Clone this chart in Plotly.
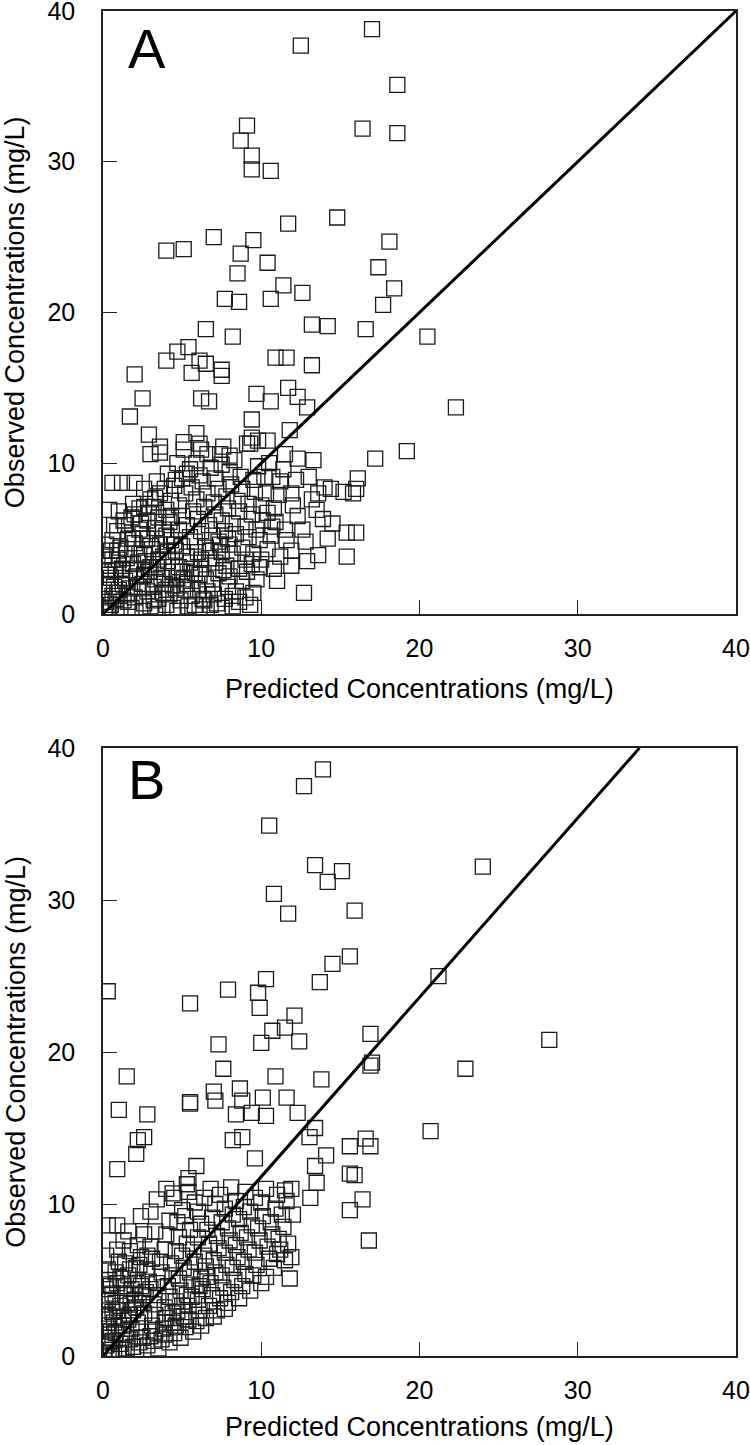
import plotly.graph_objects as go

# (predicted, observed) pairs, mg/L

# panel A - scattered points above ~12 mg/L and to the right
a_outer = [
    (17.0, 38.8), (12.5, 37.7), (18.6, 35.1), (9.1, 32.4), (16.4, 32.2), (18.6, 31.9),
    (8.7, 31.4), (9.4, 30.4), (9.4, 29.5), (10.6, 29.4), (4.0, 24.1), (5.1, 24.2),
    (7.0, 25.0), (11.7, 25.9), (14.8, 26.3), (9.5, 24.8), (8.7, 23.9), (10.4, 23.3),
    (17.4, 23.0), (18.1, 24.7), (8.5, 22.6), (11.4, 21.8), (12.6, 21.3), (7.7, 20.9),
    (8.6, 20.7), (10.6, 20.9), (18.4, 21.6), (17.7, 20.5), (13.2, 19.2), (14.2, 19.1),
    (16.6, 18.9), (20.5, 18.4), (6.5, 18.9), (8.2, 18.4), (4.7, 17.4), (5.4, 17.7),
    (4.0, 16.8), (6.1, 16.8), (6.5, 16.6), (5.6, 16.0), (7.5, 16.2), (7.5, 15.8),
    (2.0, 15.9), (2.5, 14.3), (6.2, 14.3), (6.7, 14.1), (1.7, 13.1), (9.7, 14.6),
    (10.6, 14.1), (11.7, 15.0), (12.3, 14.4), (12.9, 13.7), (9.4, 12.9), (10.9, 17.0),
    (11.6, 17.0), (13.2, 16.5), (11.8, 12.2), (22.3, 13.7), (2.9, 11.9), (5.9, 12.0),
    (3.6, 11.1), (5.1, 10.9), (6.2, 10.9), (7.4, 10.6), (8.0, 10.5), (9.3, 11.3),
    (9.8, 11.5), (10.4, 11.5), (11.5, 10.6), (17.2, 10.3), (19.2, 10.8),
]

# panel A - dense cluster below ~12 mg/L
a_core = [
    (13.3, 10.2), (12.3, 10.3), (10.7, 9.1), (11.9, 8.0), (13.2, 7.6), (14.4, 8.3),
    (15.2, 8.1), (15.8, 8.0), (13.9, 6.3), (14.5, 6.0), (15.4, 5.4), (16.0, 5.4),
    (12.8, 4.8), (13.6, 3.9), (15.4, 3.8), (11.9, 3.2), (12.7, 1.4), (11.9, 4.2),
    (11.1, 7.9), (10.4, 6.7), (10.7, 5.8), (12.0, 7.2), (11.6, 4.9), (11.2, 3.8),
    (9.9, 3.1), (16.1, 9.0), (16.0, 8.3), (14.0, 8.4), (13.6, 8.0),
    (0.1, 0.3), (0.2, 0.8), (0.1, 1.4), (0.3, 2.0), (0.2, 2.6), (0.4, 3.2), (0.1, 3.8),
    (0.3, 0.1), (0.5, 0.6), (0.6, 1.2), (0.7, 1.8), (0.5, 2.4), (0.8, 2.9), (0.6, 3.6),
    (0.9, 4.2), (0.2, 4.6), (0.6, 4.9), (0.9, 5.5), (0.4, 6.9), (1.0, 6.8), (0.6, 8.7),
    (1.2, 8.7), (2.0, 8.7), (1.1, 0.2), (1.3, 0.9), (1.0, 1.6), (1.4, 2.2), (1.2, 3.0),
    (1.5, 3.7), (1.1, 4.4), (1.6, 5.0), (1.4, 5.9), (1.8, 6.4), (1.9, 7.3), (2.3, 7.0),
    (1.8, 0.4), (2.0, 1.1), (1.7, 1.7), (2.1, 2.5), (1.9, 3.3), (2.3, 4.0), (2.0, 4.7),
    (2.5, 5.3), (2.4, 6.0), (2.9, 6.7), (3.0, 7.6), (2.6, 8.3), (2.6, 0.7), (2.8, 1.5),
    (2.5, 2.0), (2.9, 2.8), (2.7, 3.5), (3.1, 4.3), (2.8, 5.0), (3.3, 5.7), (3.5, 6.4),
    (3.2, 7.1), (3.6, 8.0), (3.4, 8.8), (3.0, 10.6), (3.6, 10.7), (3.3, 0.3), (3.5, 1.0),
    (3.2, 1.8), (3.7, 2.4), (3.4, 3.1), (3.8, 3.8), (3.6, 4.6), (4.0, 5.2), (4.2, 6.1),
    (4.0, 6.9), (4.3, 7.5), (4.5, 8.5), (4.1, 9.3), (4.7, 10.0), (5.1, 11.4), (4.0, 0.6),
    (4.2, 1.3), (3.9, 2.0), (4.4, 2.8), (4.1, 3.5), (4.6, 4.2), (4.3, 4.9), (4.8, 5.6),
    (5.0, 6.5), (4.8, 7.2), (5.2, 8.0), (5.0, 9.0), (5.5, 9.6), (4.7, 0.2), (4.9, 0.9),
    (4.6, 1.7), (5.1, 2.3), (4.8, 3.1), (5.3, 3.8), (5.0, 4.5), (5.5, 5.1), (5.3, 5.9),
    (5.7, 6.8), (5.9, 7.6), (5.6, 8.4), (6.1, 9.2), (6.1, 11.3), (5.4, 0.5), (5.6, 1.2),
    (5.3, 2.0), (5.8, 2.7), (5.5, 3.4), (6.0, 4.1), (5.8, 4.8), (6.2, 5.5), (6.0, 6.3),
    (6.4, 7.1), (6.6, 8.0), (6.3, 8.8), (6.8, 9.7), (6.1, 0.3), (6.3, 1.0), (6.0, 1.6),
    (6.5, 2.3), (6.2, 3.0), (6.7, 3.7), (6.5, 4.4), (6.9, 5.2), (6.7, 5.9), (7.1, 6.6),
    (7.0, 7.4), (7.3, 8.3), (7.1, 9.0), (7.5, 9.9), (7.6, 11.1), (6.8, 0.6), (7.0, 1.3),
    (6.9, 2.0), (7.3, 2.7), (7.1, 3.4), (7.5, 4.1), (7.3, 4.8), (7.7, 5.5), (7.5, 6.2),
    (7.9, 7.0), (7.8, 7.8), (8.1, 8.6), (8.0, 9.4), (8.3, 10.2), (7.5, 0.4), (7.7, 1.0),
    (7.9, 1.8), (8.0, 2.5), (7.8, 3.2), (8.2, 4.0), (8.0, 4.6), (8.4, 5.3), (8.2, 6.0),
    (8.6, 6.8), (8.5, 7.5), (8.8, 8.3), (8.7, 9.1), (9.1, 11.3), (9.4, 11.7), (8.6, 0.8),
    (8.4, 1.5), (8.8, 2.2), (8.6, 3.0), (9.0, 3.6), (8.8, 4.4), (9.2, 5.1), (9.0, 5.8),
    (9.4, 6.6), (9.2, 7.3), (9.6, 8.1), (9.5, 8.9), (9.8, 9.8), (9.3, 0.6), (9.5, 1.4),
    (9.7, 2.3), (9.5, 4.0), (9.9, 4.9), (9.7, 5.6), (10.1, 6.2), (10.0, 7.2), (10.3, 8.0),
    (10.2, 9.1), (10.5, 10.0), (10.4, 4.3), (10.6, 5.2), (10.9, 6.1), (10.8, 7.0),
    (11.2, 8.8), (11.4, 9.6), (10.0, 3.6), (10.8, 3.0), (11.0, 2.2), (11.5, 5.6),
    (12.3, 6.5), (12.6, 5.6), (12.2, 8.9), (13.0, 9.1), (13.5, 6.9), (12.9, 3.5), (14.2, 5.0),
    (0.4, 0.4), (0.8, 1.0), (1.5, 1.3), (2.2, 1.8), (2.6, 2.6), (3.0, 3.1), (3.5, 3.6),
    (4.1, 4.1), (4.5, 4.6), (1.2, 2.4), (1.7, 2.9), (2.2, 3.4), (2.6, 3.9), (3.0, 4.5),
    (3.4, 5.0), (3.8, 5.6), (4.3, 6.4), (1.0, 3.6), (1.5, 4.3), (1.9, 5.0), (2.3, 5.6),
    (2.8, 6.2), (3.2, 0.9), (3.8, 1.4), (4.4, 1.9), (5.0, 2.8), (5.6, 3.0), (6.2, 3.6),
    (6.8, 4.2), (7.4, 4.6), (7.9, 5.0), (2.5, 0.2), (3.0, 0.5), (4.4, 0.4), (5.8, 0.6),
    (6.4, 0.9), (7.2, 0.7), (8.2, 0.5), (9.0, 1.1), (8.2, 1.2), (6.6, 1.5), (5.2, 1.6),
    (4.0, 1.6), (3.3, 2.3), (4.7, 2.4), (6.1, 2.6), (7.6, 2.9), (9.1, 2.8), (9.4, 3.3),
    (1.6, 0.8), (0.9, 1.4), (0.3, 2.9), (0.5, 4.2), (0.7, 5.9), (1.3, 6.2), (2.0, 6.6),
    (2.6, 7.1), (3.3, 7.7), (3.9, 8.3), (4.6, 8.9), (5.3, 9.3), (5.9, 10.0), (6.6, 10.6),
]

# panel B - scattered points
b_outer = [
    (13.9, 38.6), (12.7, 37.5), (10.5, 34.9), (13.4, 32.3), (15.1, 31.9), (14.2, 31.2),
    (10.8, 30.4), (11.7, 29.1), (15.9, 29.3), (24.0, 32.2), (14.5, 25.8), (15.6, 26.3),
    (13.7, 24.6), (0.3, 24.0), (5.5, 23.2), (7.9, 24.1), (10.3, 24.8), (9.8, 23.9),
    (9.9, 22.9), (12.1, 22.4), (11.5, 21.6), (10.7, 21.4), (12.4, 20.7), (10.0, 20.6),
    (7.3, 20.5), (16.9, 21.2), (28.2, 20.8), (21.2, 25.0), (22.9, 18.9), (16.9, 19.1),
    (17.0, 19.3), (1.5, 18.4), (7.6, 18.9), (10.9, 18.4), (13.8, 18.2), (1.0, 16.2),
    (2.8, 15.9), (5.5, 16.6), (5.5, 16.7), (7.0, 17.4), (7.1, 16.8), (8.65, 17.6),
    (8.8, 16.8), (10.1, 17.0), (11.6, 17.0), (8.4, 15.9), (9.4, 16.0), (10.3, 15.8),
    (12.3, 16.0), (13.4, 15.0), (13.05, 14.4), (8.2, 14.2), (8.8, 14.4), (2.2, 14.2),
    (2.6, 14.4), (2.1, 13.3), (20.7, 14.8), (16.6, 14.3), (16.9, 13.8), (15.6, 13.8),
    (14.1, 13.2), (9.6, 13.0), (0.9, 12.3), (5.9, 12.5), (13.1, 10.4), (13.5, 11.4),
    (13.4, 12.5), (15.6, 12.0), (15.9, 11.9), (16.4, 10.3), (15.6, 9.6), (16.8, 7.6),
]

# panel B - dense cluster
b_core = [
    (0.1, 0.2), (0.2, 0.7), (0.1, 1.2), (0.3, 1.8), (0.2, 2.4), (0.1, 3.0), (0.3, 3.7),
    (0.2, 4.4), (0.4, 5.0), (0.3, 5.7), (0.2, 6.6), (0.3, 8.6), (0.5, 0.4), (0.6, 1.0),
    (0.5, 1.6), (0.7, 2.2), (0.6, 2.9), (0.8, 3.5), (0.6, 4.1), (0.9, 4.8), (0.8, 5.5),
    (1.0, 6.2), (0.9, 7.0), (0.9, 8.6), (1.0, 0.2), (1.1, 0.8), (1.2, 1.4), (1.0, 2.0),
    (1.3, 2.6), (1.1, 3.3), (1.4, 4.0), (1.3, 4.6), (1.6, 5.3), (1.4, 6.1), (1.7, 6.9),
    (1.3, 7.6), (1.6, 8.2), (1.5, 0.5), (1.7, 1.1), (1.8, 1.8), (1.6, 2.4), (1.9, 3.0),
    (2.0, 3.7), (1.8, 4.4), (2.2, 5.0), (2.1, 5.8), (2.4, 6.5), (2.2, 7.3), (2.6, 8.0),
    (2.1, 0.3), (2.3, 0.9), (2.4, 1.6), (2.2, 2.2), (2.6, 2.8), (2.5, 3.5), (2.7, 4.2),
    (2.9, 4.9), (2.8, 5.7), (3.1, 6.4), (3.0, 7.2), (3.3, 8.2), (2.8, 0.7), (3.0, 1.3),
    (3.1, 2.0), (3.3, 2.7), (3.2, 3.4), (3.5, 4.0), (3.4, 4.8), (3.7, 5.5), (3.6, 6.2),
    (3.9, 7.0), (4.0, 8.0), (4.2, 8.9), (3.5, 0.5), (3.7, 1.1), (3.8, 1.8), (4.0, 2.5),
    (3.9, 3.2), (4.2, 3.9), (4.1, 4.6), (4.4, 5.3), (4.3, 6.1), (4.6, 6.9), (4.8, 7.8),
    (4.7, 8.8), (5.0, 9.6), (4.2, 0.9), (4.5, 1.5), (4.4, 2.2), (4.7, 2.9), (4.6, 3.6),
    (4.9, 4.3), (4.8, 5.1), (5.1, 5.8), (5.0, 6.6), (5.3, 7.4), (5.5, 8.3), (5.2, 9.2),
    (5.8, 10.1), (5.4, 10.8), (4.9, 1.2), (5.2, 1.9), (5.1, 2.6), (5.4, 3.3), (5.3, 4.0),
    (5.6, 4.7), (5.5, 5.5), (5.8, 6.2), (5.7, 7.0), (6.0, 7.8), (6.2, 8.7), (6.0, 9.5),
    (6.4, 10.4), (5.7, 1.6), (5.9, 2.3), (6.1, 3.0), (6.0, 3.7), (6.3, 4.4), (6.2, 5.1),
    (6.5, 5.9), (6.4, 6.6), (6.7, 7.4), (6.6, 8.3), (6.9, 9.1), (7.1, 10.0), (6.8, 11.0),
    (6.5, 2.5), (6.7, 3.3), (6.9, 4.0), (6.8, 4.8), (7.1, 5.5), (7.0, 6.3), (7.3, 7.1),
    (7.2, 7.9), (7.5, 8.8), (7.7, 9.7), (7.4, 10.6), (7.2, 3.0), (7.4, 3.8), (7.6, 4.5),
    (7.5, 5.3), (7.8, 6.0), (7.7, 6.8), (8.0, 7.6), (7.9, 8.4), (8.2, 9.3), (8.4, 10.2),
    (8.1, 11.1), (7.9, 3.5), (8.1, 4.2), (8.3, 5.0), (8.2, 5.8), (8.5, 6.5), (8.4, 7.3),
    (8.7, 8.1), (8.6, 9.0), (8.9, 9.8), (9.0, 10.8), (8.6, 3.8), (8.8, 4.6), (9.0, 5.4),
    (8.9, 6.2), (9.2, 7.0), (9.1, 7.8), (9.4, 8.6), (9.3, 9.5), (9.6, 10.4), (9.3, 4.3),
    (9.5, 5.3), (9.7, 6.0), (9.6, 6.8), (9.9, 7.6), (9.8, 8.4), (10.1, 9.2), (10.0, 10.1),
    (10.3, 11.0), (10.0, 4.8), (10.3, 5.2), (10.5, 6.4), (10.4, 7.2), (10.7, 8.0),
    (10.6, 8.8), (10.9, 9.7), (11.0, 10.6), (10.8, 5.8), (11.0, 6.7), (11.2, 7.0),
    (11.1, 7.7), (11.4, 8.5), (11.3, 9.3), (11.6, 10.2), (11.5, 10.9), (11.8, 5.1),
    (11.5, 6.3), (11.9, 6.5), (11.7, 7.4), (12.0, 9.3), (11.9, 11.0), (3.4, 10.3),
    (4.0, 11.0), (5.3, 11.3), (4.5, 10.4), (3.0, 9.5), (2.4, 9.2), (5.4, 11.7), (4.4, 10.7),
    (0.4, 0.9), (0.8, 1.5), (1.3, 2.0), (1.7, 2.7), (2.1, 3.2), (2.5, 4.0), (3.0, 4.4),
    (0.4, 2.6), (0.9, 3.0), (1.5, 3.5), (2.0, 4.1), (2.4, 4.6), (0.5, 4.6), (1.1, 5.1),
    (1.7, 5.7), (2.3, 6.0), (2.8, 6.6), (3.3, 1.6), (3.9, 2.2), (4.4, 2.8), (5.0, 3.3),
    (5.6, 3.9), (6.1, 4.6), (6.6, 5.2), (0.7, 0.1), (1.3, 0.4), (1.9, 0.6), (2.5, 1.2),
    (3.2, 1.0), (3.9, 1.4), (4.6, 2.0), (5.4, 2.4), (6.2, 2.0), (7.0, 2.6), (7.7, 3.1),
]

# reference lines (x end, y end)
line_a_x = [0, 40]
line_a_y = [0, 40]
line_b_x = [0, 33.9]
line_b_y = [0, 40]

ticks = [0, 10, 20, 30, 40]
panel_labels = ['A', 'B']
x_title = 'Predicted Concentrations (mg/L)'
y_title = 'Observed Concentrations (mg/L)'

FONT = 'Liberation Sans, Arial, sans-serif'

a_pts = a_outer + a_core
b_pts = b_outer + b_core

fig = go.Figure()

for pts, xa, ya in [(a_pts, 'x', 'y'), (b_pts, 'x2', 'y2')]:
    fig.add_trace(go.Scatter(
        x=[p[0] for p in pts], y=[p[1] for p in pts],
        xaxis=xa, yaxis=ya, mode='markers',
        marker=dict(symbol='square-open', size=15, color='#1a1a1a', line=dict(width=1.3)),
        showlegend=False, hoverinfo='x+y',
    ))

fig.add_trace(go.Scatter(x=line_a_x, y=line_a_y, xaxis='x', yaxis='y', mode='lines',
                         line=dict(color='black', width=3), showlegend=False))
fig.add_trace(go.Scatter(x=line_b_x, y=line_b_y, xaxis='x2', yaxis='y2', mode='lines',
                         line=dict(color='black', width=3), showlegend=False))

axis_common = dict(
    range=[0, 40], tickvals=ticks, ticks='inside', ticklen=14, tickwidth=1.3,
    tickcolor='#222', showline=True, linecolor='#222', linewidth=1.5, mirror=True,
    showgrid=False, zeroline=False, automargin=False, ticklabeloverflow='allow',
    tickfont=dict(family=FONT, size=25, color='black'), fixedrange=True,
)

x_title_font = dict(family=FONT, size=27, color='black')
y_title_font = dict(family=FONT, size=27, color='black')

fig.update_layout(
    width=750, height=1445,
    margin=dict(l=103, r=14, t=11, b=89),
    paper_bgcolor='white', plot_bgcolor='white',
    xaxis=dict(axis_common, domain=[0, 1], anchor='y', ticklabelstandoff=11),
    yaxis=dict(axis_common, domain=[0.5517, 1], anchor='x', ticklabelstandoff=21),
    xaxis2=dict(axis_common, domain=[0, 1], anchor='y2', ticklabelstandoff=11),
    yaxis2=dict(axis_common, domain=[0, 0.4520], anchor='x2', ticklabelstandoff=21),
    annotations=[
        dict(text=panel_labels[0], xref='x domain', yref='y domain', x=0.037, y=0.938,
             xanchor='left', yanchor='middle', showarrow=False,
             font=dict(family=FONT, size=56, color='black')),
        dict(text=panel_labels[1], xref='x2 domain', yref='y2 domain', x=0.037, y=0.949,
             xanchor='left', yanchor='middle', showarrow=False,
             font=dict(family=FONT, size=56, color='black')),
        dict(text=x_title, xref='x domain', yref='y domain', x=0.5, y=-0.125,
             xanchor='center', yanchor='middle', showarrow=False, font=x_title_font),
        dict(text=x_title, xref='x2 domain', yref='y2 domain', x=0.5, y=-0.117,
             xanchor='center', yanchor='middle', showarrow=False, font=x_title_font),
        dict(text=y_title, xref='x domain', yref='y domain', x=-0.138, y=0.5,
             xanchor='center', yanchor='middle', showarrow=False, textangle=-90,
             font=y_title_font),
        dict(text=y_title, xref='x2 domain', yref='y2 domain', x=-0.138, y=0.5,
             xanchor='center', yanchor='middle', showarrow=False, textangle=-90,
             font=y_title_font),
    ],
)

# drop the default page margin so the figure sits flush in the window
fig.write_html('out.html', config={'displayModeBar': False},
               post_script="document.body.style.margin = '0';")
